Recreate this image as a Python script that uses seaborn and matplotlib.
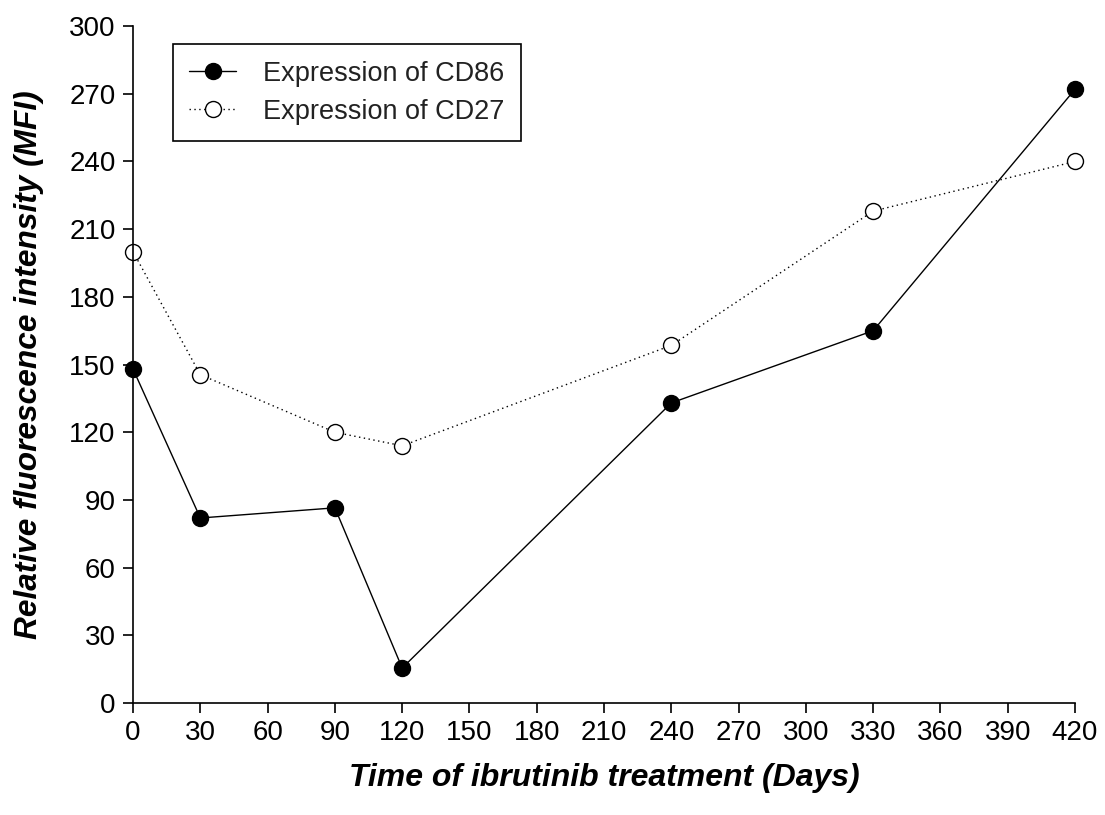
import matplotlib
matplotlib.use("Agg")
import matplotlib.pyplot as plt
import seaborn as sns
import pandas as pd

days = [0, 30, 90, 120, 240, 330, 420]
cd86 = [148, 82, 86.5, 15.5, 133, 165, 272]
cd27 = [200, 145.5, 120, 114, 158.5, 218, 240]
xticks = list(range(0, 421, 30))
yticks = list(range(0, 301, 30))

sns.set_theme(style="ticks")
plt.rcParams['font.family'] = ['Liberation Sans', 'DejaVu Sans']
plt.rcParams['text.color'] = 'black'
plt.rcParams['axes.labelcolor'] = 'black'

fig = plt.figure(figsize=(11.05, 8.15), dpi=100)
ax = fig.add_axes([0.1204, 0.1374, 0.8525, 0.8306])

df86 = pd.DataFrame({"day": days, "val": cd86})
df27 = pd.DataFrame({"day": days, "val": cd27})

sns.lineplot(data=df86, x="day", y="val", ax=ax, color="black", linewidth=1.0,
             marker="o", markersize=11.5, markerfacecolor="black",
             markeredgecolor="black", markeredgewidth=1.0, label="Expression of CD86")
sns.lineplot(data=df27, x="day", y="val", ax=ax, color="black", linewidth=1.0,
             linestyle=(0, (1, 2.5)), marker="o", markersize=11.5, markerfacecolor="white",
             markeredgecolor="black", markeredgewidth=1.0, label="Expression of CD27")

ax.set_xlim(0, 420)
ax.set_ylim(0, 300)
ax.set_xticks(xticks)
ax.set_yticks(yticks)
ax.tick_params(axis="both", direction="out", length=7.5, width=1.2, labelsize=20,
               color="black", labelcolor="black", pad=5)
for s in ["top", "right"]:
    ax.spines[s].set_visible(False)
for s in ["left", "bottom"]:
    ax.spines[s].set_linewidth(1.2)
    ax.spines[s].set_color("black")
for ln in ax.get_lines():
    ln.set_clip_on(False)

ax.set_xlabel("Time of ibrutinib treatment (Days)", fontsize=23, fontweight="bold",
              fontstyle="italic", labelpad=12, color="black")
ax.set_ylabel("Relative fluorescence intensity (MFI)", fontsize=22.8, fontweight="bold",
              fontstyle="italic", labelpad=18, color="black")

leg = ax.legend(loc="upper left", bbox_to_anchor=(0.042, 0.973), fontsize=19.5,
                frameon=True, fancybox=False, edgecolor="black", framealpha=1,
                handlelength=1.75, borderpad=0.6, labelspacing=0.45, handletextpad=1.0,
                borderaxespad=0)
leg.get_frame().set_linewidth(1.2)
for t in leg.get_texts():
    t.set_color("#222222")

fig.savefig("out.png", dpi=100)
